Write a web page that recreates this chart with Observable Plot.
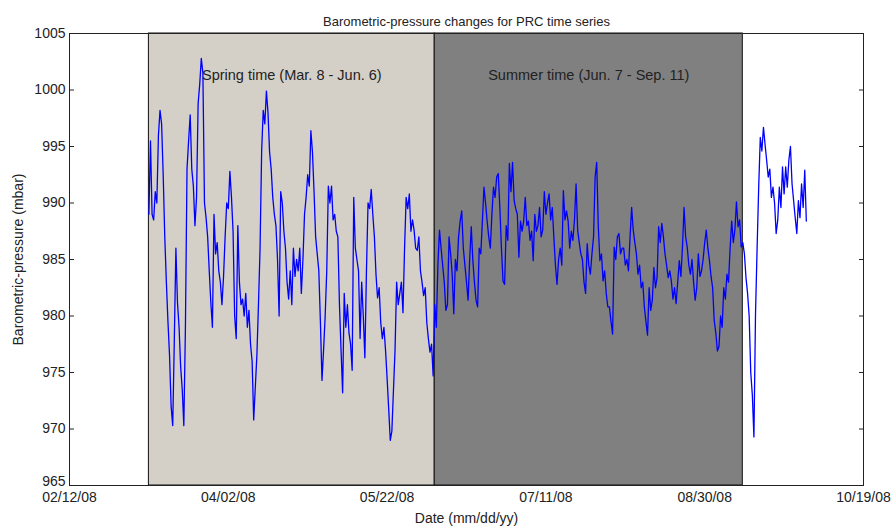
<!DOCTYPE html>
<html>
<head>
<meta charset="utf-8">
<script src="https://cdn.jsdelivr.net/npm/d3@7"></script>
<script src="https://cdn.jsdelivr.net/npm/@observablehq/plot@0.6"></script>
<style>
  html, body { margin: 0; padding: 0; background: #fff; }
  #chart { width: 892px; height: 527px; }
</style>
</head>
<body>
<div id="chart"></div>
<script>
// ---- data ----
const titleText = "Barometric-pressure changes for PRC time series";
const xLabel = "Date (mm/dd/yy)";
const yLabel = "Barometric-pressure (mbar)";

const seriesStart = "2008-03-08T00:00:00Z";
const stepHours = 12;
// barometric pressure (mbar), one reading every 12 h starting Mar. 8, 2008
const pressure = [
  989, 995.5, 989, 988.5, 991, 990, 996, 998.2, 997, 992.5,
  987, 983, 979.5, 976.5, 972, 970.3, 977.8, 986, 981.2, 979,
  975.5, 973.5, 970.3, 979, 993, 995.5, 997.8, 993, 991.5, 988,
  990.5, 998.8, 1000.5, 1002.8, 1001.5, 990, 988.7, 987, 984, 981.2,
  979, 989, 985.5, 986.5, 984, 983, 981, 983.5, 987, 990,
  989.5, 992.8, 990.5, 987.5, 980, 978, 988, 983, 981, 981.5,
  980, 982, 979, 980.5, 977.5, 976, 970.8, 973.7, 976.5, 981,
  986, 994.6, 998.2, 997, 999.9, 998, 994.5, 993, 990.5, 989,
  988, 985, 980, 991, 990, 987.5, 986, 983, 981.5, 984,
  981, 986, 983.5, 985, 984, 986, 982, 985, 989, 990.5,
  992.5, 991.5, 996.4, 994.5, 991, 987, 985.5, 984, 979.5, 974.3,
  977, 980, 984, 991.5, 990, 991.5, 988.5, 989, 987.5, 987,
  981, 977, 973.2, 982, 979, 981, 978.5, 977.5, 975.2, 990.5,
  986, 985, 984, 978, 983, 980, 976.3, 984, 990, 989.5,
  991.2, 989, 987, 983.7, 981.6, 982.5, 979.4, 978, 979, 977,
  974.5, 971.8, 969, 969.8, 973.4, 977, 983, 981, 982, 983,
  980.3, 986, 990.5, 989.5, 990.8, 987.5, 988.5, 987.6, 986, 985.8,
  987, 984, 983, 981.8, 982.5, 979.4, 978, 976.8, 977.5, 974.7,
  981, 979, 984.6, 987.6, 986, 984.5, 983, 980.5, 981, 987,
  985.5, 983.7, 980.2, 985, 984, 987, 988.4, 989.3, 986, 984.5,
  983, 981.4, 985, 987.9, 984.9, 983, 981.4, 980.8, 986, 985.5,
  988.4, 991.4, 990, 988.4, 987, 986, 989, 991.4, 990.5, 992.3,
  992.6, 989.6, 986, 983.1, 982.8, 988, 986.7, 993.5, 991, 993.6,
  990.2, 989.5, 989, 985.2, 988.4, 987.5, 988.4, 990.5, 988, 988.4,
  986.7, 987.5, 984.9, 989, 987.5, 988, 989.6, 987, 987.6, 991,
  989, 990, 990.8, 988.5, 989.6, 987, 984.5, 982.8, 985, 986,
  984.5, 991.1, 988.5, 989.3, 988.4, 986, 987.5, 986.7, 988.5, 991.7,
  987.6, 986.5, 985.5, 985, 983, 982, 986.4, 984.5, 983.7, 985.5,
  987, 992.3, 993.6, 987.9, 984.9, 985.5, 983.1, 984, 982, 980.8,
  980.8, 979.5, 978.4, 986.1, 985, 987, 987.3, 985.5, 986, 986,
  984.5, 985, 984, 987, 989.6, 987.6, 986.5, 985.5, 983.7, 984.5,
  982.5, 983, 980.8, 979.5, 978.3, 982.5, 980.5, 981.4, 984.3, 982.5,
  983.4, 987.9, 986.5, 988.2, 987, 985.5, 984.5, 983.4, 984, 983.1,
  981.5, 982.5, 981.1, 983, 984.9, 983.5, 986.1, 989.6, 987, 986.1,
  984.5, 983.7, 985, 983, 981.4, 982.5, 985.5, 983.5, 984, 985,
  986.5, 987.6, 986, 984.9, 983.5, 982.5, 979.6, 978.5, 976.9, 977.3,
  980, 979, 982.5, 981.5, 983.7, 983, 986, 988.4, 986.5, 987.6,
  990.1, 987.9, 988.5, 986.1, 986.5, 985.5, 983.4, 982, 980, 975,
  973, 969.3, 980.2, 986, 991.4, 995.8, 994.6, 996.7, 995.2, 993.8,
  992.3, 993, 990.5, 991.4, 990, 987.3, 988.5, 991.4, 989.6, 993.2,
  990.8, 993.2, 991.4, 993.8, 995, 991.7, 990.2, 988.7, 987.3, 990.2,
  988.7, 991.7, 989.6, 992.9, 988.4
];

const periodNames = ["Spring time (Mar. 8 - Jun. 6)", "Summer time (Jun. 7 - Sep. 11)"];
const periodStarts = ["2008-03-08", "2008-06-06"];
const periodEnds = ["2008-06-06", "2008-09-11"];
const periodColors = ["#d4d0c8", "#808080"];

const xDomain = ["2008-02-12", "2008-10-19"];
const xTickDates = ["2008-02-12", "2008-04-02", "2008-05-22", "2008-07-11", "2008-08-30", "2008-10-19"];
const yDomain = [965, 1005];
const yTicks = [965, 970, 975, 980, 985, 990, 995, 1000, 1005];

// ---- build tables ----
const t0 = new Date(seriesStart).getTime();
const series = pressure.map((v, i) => ({date: new Date(t0 + i * stepHours * 3600e3), value: v}));
const periods = periodNames.map((name, i) => ({
  name,
  start: new Date(periodStarts[i] + "T00:00:00Z"),
  end: new Date(periodEnds[i] + "T00:00:00Z"),
  color: periodColors[i]
}));
const fmt = d3.utcFormat("%m/%d/%y");
const yFmt = d3.format("d");

const chart = Plot.plot({
  width: 892,
  height: 527,
  marginLeft: 69,
  marginRight: 29,
  marginTop: 33,
  marginBottom: 42,
  style: {fontFamily: "'Liberation Sans', Arial, sans-serif", fontSize: "14px", color: "#222", background: "#fff"},
  x: {type: "utc", domain: xDomain.map(d => new Date(d + "T00:00:00Z"))},
  y: {domain: yDomain},
  color: {type: "identity"},
  marks: [
    Plot.rect(periods, {x1: "start", x2: "end", fill: "color", stroke: "#111", strokeWidth: 1}),
    Plot.line(series, {x: "date", y: "value", stroke: "#0000ff", strokeWidth: 1.3}),
    Plot.text(periods, {
      x: d => new Date((d.start.getTime() + d.end.getTime()) / 2),
      text: "name", frameAnchor: "top", dy: 36, fill: "#222", fontSize: 14.5
    }),
    Plot.frame({stroke: "#222"}),
    Plot.axisY(yTicks.slice(1), {anchor: "left", tickSize: 0, tickPadding: 4, fontSize: 14,
      tickFormat: yFmt,
      label: yLabel, labelAnchor: "center", labelArrow: "none", labelOffset: 56}),
    Plot.axisY(yTicks.slice(0, 1), {anchor: "left", tickSize: 0, tickPadding: 4, fontSize: 14,
      tickFormat: yFmt, dy: -4, label: null}),
    Plot.axisY(yTicks, {anchor: "left", tickSize: -5, tickFormat: () => "", label: null}),
    Plot.axisY(yTicks, {anchor: "right", tickSize: -5, tickFormat: () => "", label: null}),
    Plot.axisX(xTickDates.map(d => new Date(d + "T00:00:00Z")), {
      anchor: "bottom", tickSize: 0, tickPadding: 7, tickFormat: fmt, fontSize: 14,
      label: xLabel, labelAnchor: "center", labelArrow: "none", labelOffset: 37}),
    Plot.text([titleText], {text: d => d, frameAnchor: "top", dy: -17, fontSize: 13, fill: "#222"})
  ]
});
document.getElementById("chart").appendChild(chart);
</script>
</body>
</html>
